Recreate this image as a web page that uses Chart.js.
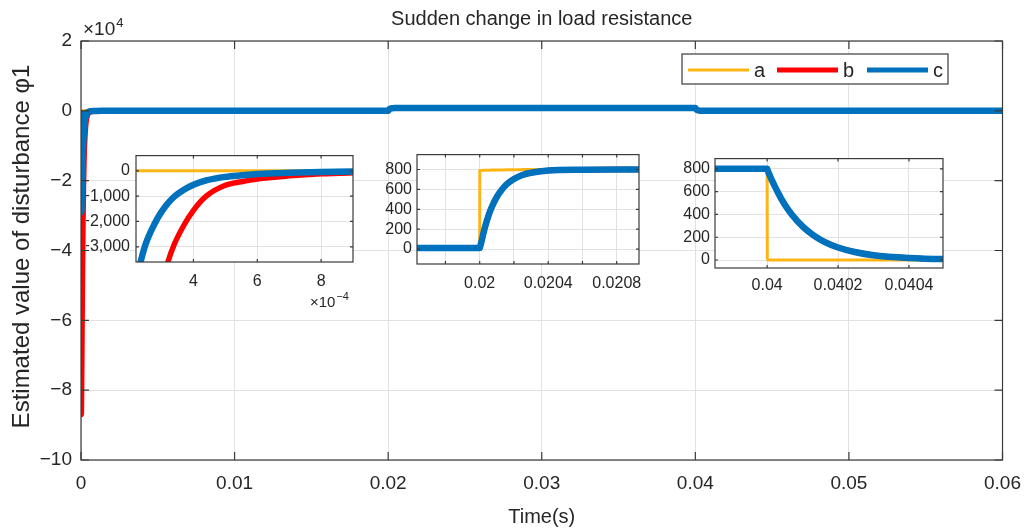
<!DOCTYPE html>
<html>
<head>
<meta charset="utf-8">
<script src="https://cdn.jsdelivr.net/npm/chart.js@4.4.1/dist/chart.umd.min.js"></script>
<style>
  html, body { margin: 0; padding: 0; background: #fff; }
  #wrap { position: relative; width: 1033px; height: 530px; overflow: hidden; }
  #wrap canvas { position: absolute; }
</style>
</head>
<body>
<div id="wrap">
  <canvas id="mainChart" width="1033" height="530" style="left:0;top:0"></canvas>
  <canvas id="zoomStart" width="274" height="170" style="left:86px;top:140px"></canvas>
  <canvas id="zoomRise" width="274" height="160" style="left:378px;top:140px"></canvas>
  <canvas id="zoomFall" width="274" height="156" style="left:676px;top:144px"></canvas>
</div>
<script>
const FONT = '"Liberation Sans", Arial, Helvetica, sans-serif';
const INK = '#262626';
const GRID = '#e2e2e2';

// time axis (s), shared by all three series
const time = [
  0, 0.00001, 0.00002, 0.00004, 0.00007, 0.0001, 0.00013, 0.00016, 0.0002, 0.00023,
  0.00025, 0.00028, 0.0003, 0.00032, 0.00034, 0.00037, 0.0004, 0.00044, 0.0005, 0.00055,
  0.0006, 0.0007, 0.0008, 0.0009, 0.001, 0.0015, 0.002, 0.01, 0.0196, 0.02,
  0.0200005, 0.02003, 0.02005, 0.02007, 0.0201, 0.02013, 0.02016, 0.0202, 0.02025, 0.0203,
  0.0204, 0.0206, 0.0208, 0.021, 0.03, 0.0398, 0.04, 0.0400005, 0.04003, 0.04005,
  0.04007, 0.0401, 0.04013, 0.04016, 0.0402, 0.04025, 0.0403, 0.0404, 0.0405, 0.041,
  0.05, 0.06
];
const seriesA = [
  0, 0, 0, 0, 0, 0, 0, 0, 0, 0,
  0, 0, 0, 0, 0, 0, 0, 0, 0, 0,
  0, 0, 0, 0, 0, 0, 0, 0, 0, 0,
  790, 792, 793, 794, 795, 796, 797, 798, 799, 800,
  800, 800, 800, 800, 800, 800, 800, 0, 0, 0,
  0, 0, 0, 0, 0, 0, 0, 0, 0, 0,
  0, 0
];
const seriesB = [
  0, -60000, -87000, -80000, -62000, -45000, -32000, -22000, -14000, -10000,
  -8000, -5800, -4600, -3600, -2900, -2150, -1560, -1000, -570, -430,
  -320, -200, -120, -80, -55, -15, 0, 5, 10, 10,
  12, 215, 330, 420, 525, 600, 655, 705, 745, 767,
  789, 798, 800, 800, 800, 800, 800, 795, 595, 485,
  398, 295, 218, 162, 110, 68, 42, 18, 8, 0,
  0, 0
];
const seriesC = [
  0, -20000, -29000, -26000, -20000, -15000, -11000, -8000, -5200, -3800,
  -2900, -2050, -1620, -1280, -1020, -750, -550, -380, -240, -180,
  -130, -80, -45, -25, -15, -5, 0, 5, 10, 10,
  12, 215, 330, 420, 525, 600, 655, 705, 745, 767,
  789, 798, 800, 800, 800, 800, 800, 795, 595, 485,
  398, 295, 218, 162, 110, 68, 42, 18, 8, 0,
  0, 0
];

const seriesNames = ['a', 'b', 'c'];
const seriesColors = ['#FDB515', '#FF0000', '#0072BD'];
const lineWidths = [3, 5.5, 6.5];

// main axes
const mainXTicks = [0, 0.01, 0.02, 0.03, 0.04, 0.05, 0.06];
const mainXLabels = ['0', '0.01', '0.02', '0.03', '0.04', '0.05', '0.06'];
const mainYTicks = [-100000, -80000, -60000, -40000, -20000, 0, 20000];
const mainYLabels = ['\u221210', '\u22128', '\u22126', '\u22124', '\u22122', '0', '2'];

// inset: start-up transient
const startXTicks = [0.0004, 0.0006, 0.0008];
const startXLabels = ['4', '6', '8'];
const startYTicks = [-3000, -2000, -1000, 0];
const startYLabels = ['\u22123,000', '\u22122,000', '\u22121,000', '0'];

// inset: load step at 0.02 s
const riseXTicks = [0.0198, 0.02, 0.0202, 0.0204, 0.0206, 0.0208];
const riseXLabels = ['', '0.02', '', '0.0204', '', '0.0208'];

// inset: load step at 0.04 s
const fallXTicks = [0.04, 0.0402, 0.0404];
const fallXLabels = ['0.04', '0.0402', '0.0404'];

const stepYTicks = [0, 200, 400, 600, 800];
const stepYLabels = ['0', '200', '400', '600', '800'];

function makeDatasets(clip) {
  return [seriesA, seriesB, seriesC].map((vals, i) => ({
    label: seriesNames[i],
    data: time.map((t, k) => ({ x: t, y: vals[k] })),
    borderColor: seriesColors[i],
    backgroundColor: seriesColors[i],
    borderWidth: lineWidths[i],
    borderJoinStyle: 'round',
    cubicInterpolationMode: 'monotone',
    pointRadius: 0,
    fill: false,
    order: 3 - i,
    clip: clip
  }));
}

function makeAxis(min, max, ticks, labels, size, fontSize, pad, horizontal) {
  return {
    type: 'linear',
    min: min,
    max: max,
    afterBuildTicks: (s) => { s.ticks = ticks.map((v) => ({ value: v })); },
    afterFit: (s) => { if (horizontal) s.height = size; else s.width = size; },
    ticks: {
      callback: (v, i) => labels[i],
      font: { family: FONT, size: fontSize },
      color: INK,
      padding: pad,
      maxRotation: 0,
      autoSkip: false
    },
    grid: { color: GRID, drawTicks: false, lineWidth: 1 },
    border: { display: false }
  };
}

// white plot background + MATLAB style box with inward ticks
const boxPlugin = {
  id: 'box',
  beforeDraw(chart, args, opts) {
    const { ctx, chartArea: a } = chart;
    ctx.save();
    ctx.fillStyle = '#fff';
    if (opts.full) ctx.fillRect(0, 0, chart.width, chart.height);
    else ctx.fillRect(a.left, a.top, a.right - a.left, a.bottom - a.top);
    ctx.restore();
  },
  afterDatasetsDraw(chart, args, opts) {
    const { ctx, chartArea: a, scales } = chart;
    const tl = opts.tick || 4;
    ctx.save();
    ctx.strokeStyle = '#3a3a3a';
    ctx.lineWidth = 1.2;
    ctx.beginPath();
    scales.x.ticks.forEach((t) => {
      const px = scales.x.getPixelForValue(t.value);
      ctx.moveTo(px, a.bottom); ctx.lineTo(px, a.bottom - tl);
      ctx.moveTo(px, a.top); ctx.lineTo(px, a.top + tl);
    });
    scales.y.ticks.forEach((t) => {
      const py = scales.y.getPixelForValue(t.value);
      ctx.moveTo(a.left, py); ctx.lineTo(a.left + tl, py);
      ctx.moveTo(a.right, py); ctx.lineTo(a.right - tl, py);
    });
    ctx.stroke();
    ctx.strokeRect(a.left, a.top, a.right - a.left, a.bottom - a.top);
    ctx.restore();
  }
};

const mainDecor = {
  id: 'mainDecor',
  afterDraw(chart) {
    const { ctx, chartArea: a } = chart;
    const cx = (a.left + a.right) / 2;
    ctx.save();
    ctx.fillStyle = INK;
    ctx.textAlign = 'center';
    ctx.textBaseline = 'middle';
    ctx.font = '20px ' + FONT;
    ctx.fillText('Sudden change in load resistance', cx, 19);
    ctx.fillText('Time(s)', cx, 517);
    ctx.save();
    ctx.translate(22, (a.top + a.bottom) / 2 - 4);
    ctx.rotate(-Math.PI / 2);
    ctx.font = '24px ' + FONT;
    ctx.fillText('Estimated value of disturbance \u03C61', 0, 0);
    ctx.restore();

    // exponent label
    ctx.textAlign = 'left';
    ctx.textBaseline = 'alphabetic';
    ctx.font = '19px ' + FONT;
    ctx.fillText('\u00D710', 83, 35);
    const w = ctx.measureText('\u00D710').width;
    ctx.font = '13px ' + FONT;
    ctx.fillText('4', 83 + w + 1, 27);

    // legend
    const lx = 682, ly = 54, lw = 266, lh = 30;
    ctx.fillStyle = '#fff';
    ctx.fillRect(lx, ly, lw, lh);
    ctx.strokeStyle = '#3a3a3a';
    ctx.lineWidth = 1.2;
    ctx.strokeRect(lx, ly, lw, lh);
    const starts = [688, 777, 867];
    ctx.font = '20px ' + FONT;
    chart.data.datasets.forEach((ds, i) => {
      ctx.strokeStyle = ds.borderColor;
      ctx.lineWidth = Math.min(ds.borderWidth, 5);
      ctx.beginPath();
      ctx.moveTo(starts[i], ly + 16);
      ctx.lineTo(starts[i] + 61, ly + 16);
      ctx.stroke();
      ctx.fillStyle = INK;
      ctx.fillText(ds.label, starts[i] + 66, ly + 23);
    });
    ctx.restore();
  }
};

new Chart(document.getElementById('mainChart'), {
  type: 'line',
  data: { datasets: makeDatasets(undefined) },
  options: {
    responsive: false,
    animation: false,
    devicePixelRatio: 1,
    layout: { padding: { left: 0, top: 41, right: 25, bottom: 0 } },
    plugins: { legend: { display: false }, tooltip: { enabled: false }, box: { full: true, tick: 8 } },
    scales: {
      x: makeAxis(0, 0.06, mainXTicks, mainXLabels, 70, 19, 12, true),
      y: makeAxis(-100000, 20000, mainYTicks, mainYLabels, 81, 19, 9, false)
    }
  },
  plugins: [boxPlugin, mainDecor]
});

function insetChart(id, xMin, xMax, xTicks, xLabels, xPad, xHeight, yMin, yMax, yTicks, yLabels, yPad, yWidth, padding, extra) {
  return new Chart(document.getElementById(id), {
    type: 'line',
    data: { datasets: makeDatasets(0) },
    options: {
      responsive: false,
      animation: false,
      devicePixelRatio: 1,
      layout: { padding: padding },
      plugins: { legend: { display: false }, tooltip: { enabled: false }, box: { full: false, tick: 3 } },
      scales: {
        x: makeAxis(xMin, xMax, xTicks, xLabels, xHeight, 16, xPad, true),
        y: makeAxis(yMin, yMax, yTicks, yLabels, yWidth, 16, yPad, false)
      }
    },
    plugins: extra ? [boxPlugin, extra] : [boxPlugin]
  });
}

const startExponent = {
  id: 'startExponent',
  afterDraw(chart) {
    const ctx = chart.ctx;
    ctx.save();
    ctx.fillStyle = INK;
    ctx.textBaseline = 'alphabetic';
    ctx.font = '15px ' + FONT;
    ctx.fillText('\u00D710', 224, 167);
    const w = ctx.measureText('\u00D710').width;
    ctx.font = '11px ' + FONT;
    ctx.fillText('\u22124', 224 + w + 1, 160);
    ctx.restore();
  }
};

insetChart('zoomStart', 0.00022, 0.0009, startXTicks, startXLabels, 10, 48,
  -3600, 600, startYTicks, startYLabels, 6, 50, { left: 0, top: 8, right: 7, bottom: 0 }, startExponent);

insetChart('zoomRise', 0.019634, 0.02093, riseXTicks, riseXLabels, 10, 36,
  -150, 950, stepYTicks, stepYLabels, 5, 39, { left: 0, top: 9, right: 8, bottom: 0 });

insetChart('zoomFall', 0.039853, 0.040496, fallXTicks, fallXLabels, 8, 32,
  -70, 890, stepYTicks, stepYLabels, 5, 39, { left: 0, top: 8, right: 7, bottom: 0 });
</script>
</body>
</html>
